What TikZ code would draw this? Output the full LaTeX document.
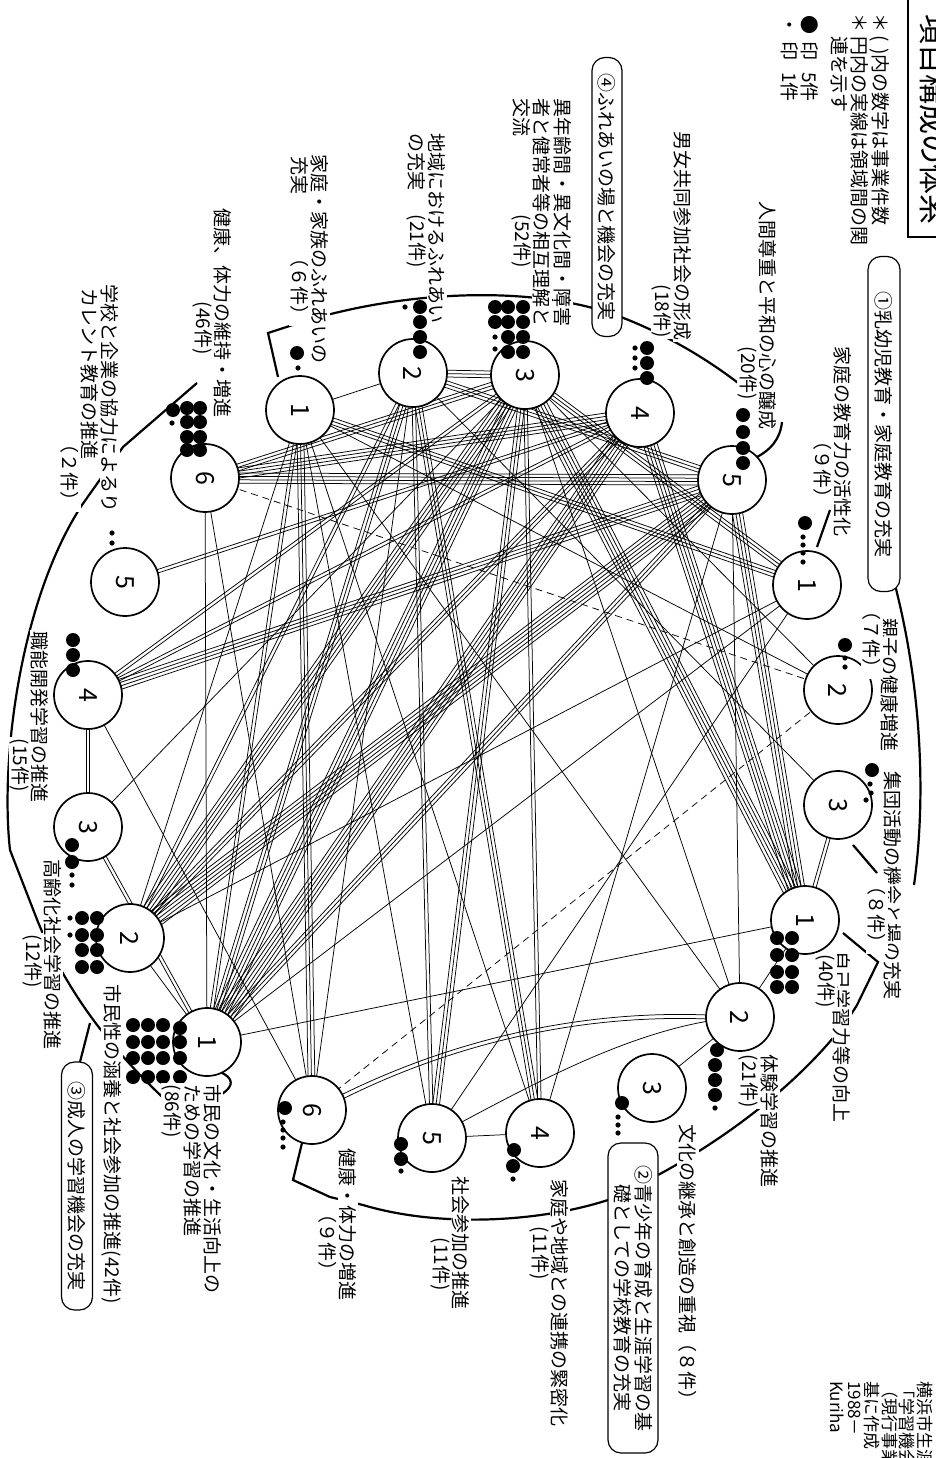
\documentclass[tikz,border=0pt]{standalone}
\usepackage{fontspec}
\setmainfont{Noto Sans CJK JP}
\usetikzlibrary{calc}
\newcommand\bund[3]{%
  \foreach \k in {1,...,#3}{%
    \pgfmathsetmacro\off{(\k-(#3+1)/2)*3.4}%
    \draw[edge] ($(#1)!\off pt!90:(#2)$) -- ($(#2)!\off pt!-90:(#1)$);
  }}
\begin{document}
\begin{tikzpicture}[x=1pt,y=-1pt,
  circ/.style={circle,draw,line width=1.7pt,fill=white,minimum size=68pt,inner sep=0pt,rotate=-90,font=\fontsize{25}{25}\selectfont},
  edge/.style={line width=0.75pt},
  grp/.style={line width=2.2pt},
  lbl/.style={rotate=-90,anchor=west,inner sep=1.5pt,fill=white,font=\fontsize{19}{21}\selectfont},
  note/.style={rotate=-90,anchor=west,inner sep=1pt,font=\fontsize{19}{21}\selectfont},
  gbox/.style={rotate=-90,draw,line width=1.2pt,rounded corners=13pt,fill=white,inner sep=4pt,font=\fontsize{19}{21}\selectfont,align=left}
]
\useasboundingbox (0,0) rectangle (935,1458);
\fill[white] (0,0) rectangle (935,1458);

% coordinates of the circles
\coordinate (A1) at (300,410); \coordinate (A2) at (413,373); \coordinate (A3) at (525,375);
\coordinate (A4) at (640,413); \coordinate (A5) at (732,480);
\coordinate (B1) at (807,585); \coordinate (B2) at (838,690); \coordinate (B3) at (838,805);
\coordinate (C1) at (805,920); \coordinate (C2) at (740,1017); \coordinate (C3) at (652,1088);
\coordinate (C4) at (540,1133); \coordinate (C5) at (432,1138); \coordinate (C6) at (312,1110);
\coordinate (D1) at (207,1042); \coordinate (D2) at (130,938); \coordinate (D3) at (88,827);
\coordinate (D4) at (88,695); \coordinate (D5) at (125,582); \coordinate (D6) at (205,478);

% ---- connectors ----
\bund{A1}{A2}{1}
\bund{A2}{A3}{3}
\bund{D4}{D3}{2}
\bund{D2}{D1}{1}
\bund{D3}{D1}{2}
\bund{C1}{B3}{2}
\bund{C1}{C2}{1}
\bund{C2}{C3}{1}
\bund{C4}{C5}{1}
\bund{A1}{D1}{2}
\bund{A1}{C6}{3}
\bund{A1}{C5}{1}
\bund{A1}{D2}{1}
\bund{A1}{B1}{3}
\bund{A1}{B2}{1}
\bund{A1}{C4}{1}
\bund{A1}{C2}{1}
\bund{A2}{C4}{3}
\bund{A2}{C5}{2}
\bund{A2}{D1}{3}
\bund{A2}{D2}{2}
\bund{A2}{A5}{3}
\bund{A2}{B3}{1}
\bund{A2}{C6}{1}
\bund{A3}{D2}{5}
\bund{A3}{D1}{5}
\bund{A3}{D3}{1}
\bund{A3}{C5}{3}
\bund{A3}{C4}{2}
\bund{A3}{C1}{5}
\bund{A3}{B1}{3}
\bund{A3}{C2}{1}
\bund{A3}{D4}{2}
\bund{A3}{B2}{1}
\bund{A3}{D6}{3}
\bund{A4}{D1}{6}
\bund{A4}{D2}{3}
\bund{A4}{D4}{2}
\bund{A4}{D5}{2}
\bund{A4}{D6}{4}
\bund{A4}{C1}{5}
\bund{A5}{D2}{6}
\bund{A5}{D1}{3}
\bund{A5}{D4}{4}
\bund{A5}{D6}{4}
\bund{A5}{C1}{4}
\bund{A5}{C2}{1}
\bund{A5}{C4}{1}
\bund{B1}{D1}{1}
\bund{B1}{D2}{1}
\bund{B1}{C5}{1}
\bund{C1}{D1}{1}
\bund{D4}{C6}{1}
\bund{D6}{C6}{1}
\bund{D6}{D1}{1}
\draw[edge] (C6) .. controls (450,1035) and (600,1005) .. (C2);
\draw[edge] ($(C6)+(2,4)$) .. controls (450,1039) and (600,1009) .. ($(C2)+(0,4)$);
\draw[edge] (C5) .. controls (540,1080) and (640,1025) .. (C2);
\draw[edge,dash pattern=on 7pt off 5pt] (B2) -- (D6);
\draw[edge,dash pattern=on 7pt off 5pt] (B2) -- (C6);

% ---- group brackets ----
\draw[grp] (895,585) .. controls (922,690) and (926,800) .. (914,885);
\draw[grp] (843,933) -- (878,962) -- (857,1005) .. controls (830,1050) and (760,1120) .. (658,1175);
\draw[grp] (608,1200) .. controls (540,1222) and (440,1228) .. (363,1205) -- (330,1197) -- (293,1180) -- (302,1143);
\draw[grp] (197,383) -- (123,447) -- (82,505) .. controls (20,600) and (0,760) .. (10,850) -- (38,922) .. controls (70,1000) and (120,1060) .. (182,1115);
\draw[grp] (90,1023) -- (80,1062);
\draw[grp] (278,377) -- (268,333) -- (302,322) .. controls (400,292) and (520,285) .. (607,312) .. controls (660,330) and (710,360) .. (747,390);
\draw[grp] (782,422) .. controls (780,440) and (770,450) .. (757,457);
\draw[grp] (830,510) -- (817,547);
\draw[grp] (853,845) -- (877,873);
\draw[grp] (220,1072) .. controls (234,1078) and (234,1086) .. (222,1094);

% ---- circles ----
\node[circ] (nA1) at (A1) {1};
\node[circ] (nA2) at (A2) {2};
\node[circ] (nA3) at (A3) {3};
\node[circ] (nA4) at (A4) {4};
\node[circ] (nA5) at (A5) {5};
\node[circ] (nB1) at (B1) {1};
\node[circ] (nB2) at (B2) {2};
\node[circ] (nB3) at (B3) {3};
\node[circ] (nC1) at (C1) {1};
\node[circ] (nC2) at (C2) {2};
\node[circ] (nC3) at (C3) {3};
\node[circ] (nC4) at (C4) {4};
\node[circ] (nC5) at (C5) {5};
\node[circ] (nC6) at (C6) {6};
\node[circ] (nD1) at (D1) {1};
\node[circ] (nD2) at (D2) {2};
\node[circ] (nD3) at (D3) {3};
\node[circ] (nD4) at (D4) {4};
\node[circ] (nD5) at (D5) {5};
\node[circ] (nD6) at (D6) {6};

% ---- dots (big = 5, small = 1) ----
\foreach \p in {(297,353),(420,307),(420,322),(420,337),(420,352),
  (495,307),(508,307),(523,307),(495,322),(508,322),(523,322),(508,337),(523,337),(508,352),(523,352),
  (647,348),(647,363),(647,378),(743,415),(743,432),(743,448),(743,463),
  (805,523),(845,645),(872,770),
  (777,938),(792,938),(777,955),(792,955),(777,972),(792,972),(777,987),(792,987),
  (717,1050),(715,1065),(715,1080),(715,1095),(622,1103),(514,1150),(513,1166),(401,1144),(401,1159),(285,1108),
  (133,1025),(148,1025),(163,1025),(133,1042),(148,1042),(163,1042),(133,1058),(148,1058),(163,1058),(133,1077),(148,1077),(163,1077),
  (180,1028),(180,1042),(180,1058),(180,1077),(180,1092),
  (82,918),(97,918),(82,935),(97,935),(82,950),(97,950),(82,967),(97,967),
  (72,845),(72,862),(73,640),(73,655),(73,670),
  (173,410),(187,408),(200,408),(187,422),(200,422),(187,437),(200,437),(187,450),(200,450)}
  \fill \p circle (7pt);
\foreach \p in {(298,368),(405,307),(495,337),(495,349),(635,348),(635,358),(635,368),
  (803,537),(803,545),(803,553),(803,562),(845,658),(845,667),(870,784),(871,793),(866,800),
  (715,1108),(618,1117),(618,1125),(618,1133),(513,1179),(401,1171),
  (283,1122),(283,1130),(283,1138),(283,1147),(180,1105),(70,918),(70,935),(72,875),(72,885),
  (112,533),(112,543),(172,423)}
  \fill \p circle (2.6pt);

% ---- boxes ----
\node[gbox,minimum width=335pt,minimum height=32pt] (g1) at (884,424) {①乳幼児教育・家庭教育の充実};
\node[gbox,minimum width=310pt,minimum height=50pt] (g2) at (633,1298) {②青少年の育成と生涯学習の基\\\phantom{②}礎としての学校教育の充実};
\node[gbox,minimum width=248pt,minimum height=31pt] (g3) at (77,1186) {③成人の学習機会の充実};
\node[gbox,minimum width=279pt,minimum height=30pt] (g4) at (607,197) {④ふれあいの場と機会の充実};

% ---- labels ----
\node[lbl] (t1) at (843,345) {家庭の教育力の活性化};
\node[lbl] (t1n) at (823,430) {（９件）};
\node[lbl] (t2) at (890,617) {親子の健康増進};
\node[lbl] (t2n) at (872,600) {（７件）};
\node[lbl] (t3) at (893,770) {集団活動の機会と場の充実};
\node[lbl] (t3n) at (877,875) {（８件）};
\node[lbl] (u1) at (842,950) {自己学習力等の向上};
\node[lbl] (u1n) at (826,953) {(40件)};
\node[lbl] (u2) at (770,1053) {体験学習の推進};
\node[lbl] (u2n) at (749,1053) {(21件)};
\node[lbl] (u3) at (688,1123) {文化の継承と創造の重視（８件）};
\node[lbl] (u4) at (560,1178) {家庭や地域との連携の緊密化};
\node[lbl] (u4n) at (540,1225) {(11件)};
\node[lbl] (u5) at (461,1175) {社会参加の推進};
\node[lbl] (u5n) at (441,1236) {(11件)};
\node[lbl] (u6) at (348,1147) {健康・体力の増進};
\node[lbl] (u6n) at (328,1203) {（９件）};
\node[lbl] (v1) at (213,1083) {市民の文化・生活向上の};
\node[lbl] (v1b) at (193,1083) {ための学習の推進};
\node[lbl] (v1n) at (172,1083) {(86件)};
\node[lbl] (v2) at (112,983) {市民性の涵養と社会参加の推進(42件)};
\node[lbl] (v3) at (53,858) {高齢化社会学習の推進};
\node[lbl] (v3n) at (33,933) {(12件)};
\node[lbl] (v4) at (40,630) {職能開発学習の推進};
\node[lbl] (v4n) at (20,737) {(15件)};
\node[lbl] (v5) at (110,283) {学校と企業の協力によるり};
\node[lbl] (v5b) at (90,287) {カレント教育の推進};
\node[lbl] (v5n) at (70,433) {（２件）};
\node[lbl] (v6) at (223,207) {健康、体力の維持・増進};
\node[lbl] (v6n) at (203,300) {(46件)};
\node[lbl] (w1) at (320,153) {家庭・家族のふれあいの};
\node[lbl] (w1b) at (300,155) {充実};
\node[lbl] (w1n) at (300,247) {（６件）};
\node[lbl] (w2) at (437,132) {地域におけるふれあい};
\node[lbl] (w2b) at (417,132) {の充実};
\node[lbl] (w2n) at (417,213) {(21件)};
\node[lbl] (w3) at (563,97) {異年齢間・異文化間・障害};
\node[lbl] (w3b) at (542,97) {者と健常者等の相互理解と};
\node[lbl] (w3c) at (522,97) {交流};
\node[lbl] (w3n) at (522,213) {(52件)};
\node[lbl] (w4) at (683,130) {男女共同参加社会の形成};
\node[lbl] (w4n) at (662,283) {(18件)};
\node[lbl] (w5) at (768,200) {人間尊重と平和の心の醸成};
\node[lbl] (w5n) at (748,345) {(20件)};

% ---- notes ----
\node[note] (n1) at (880,12) {＊\,(\,\,)内の数字は事業件数};
\node[note] (n2) at (860,12) {＊ 円内の実線は領域間の関};
\node[note] (n3) at (840,35) {連を示す};
\node[note] (n4) at (810,14) {●\hspace{0.4em}印\hspace{0.6em}5件};
\node[note] (n5) at (790,14) {・\hspace{0.4em}印\hspace{0.6em}1件};

% ---- title ----
\draw[line width=1.2pt] (960,237) -- (908,237) -- (908,-5);
\node[rotate=-90,anchor=west,inner sep=0pt,font=\fontsize{30}{30}\selectfont] (title) at (934,14) {項目構成の体系};

% ---- source ----
\node[note,align=left,anchor=north west,font=\fontsize{17}{17.5}\selectfont] (src) at (934,1380) {横浜市生涯\\「学習機会\\（現行事業\\基に作成\\1988－\\Kuriha};
\end{tikzpicture}
\end{document}
